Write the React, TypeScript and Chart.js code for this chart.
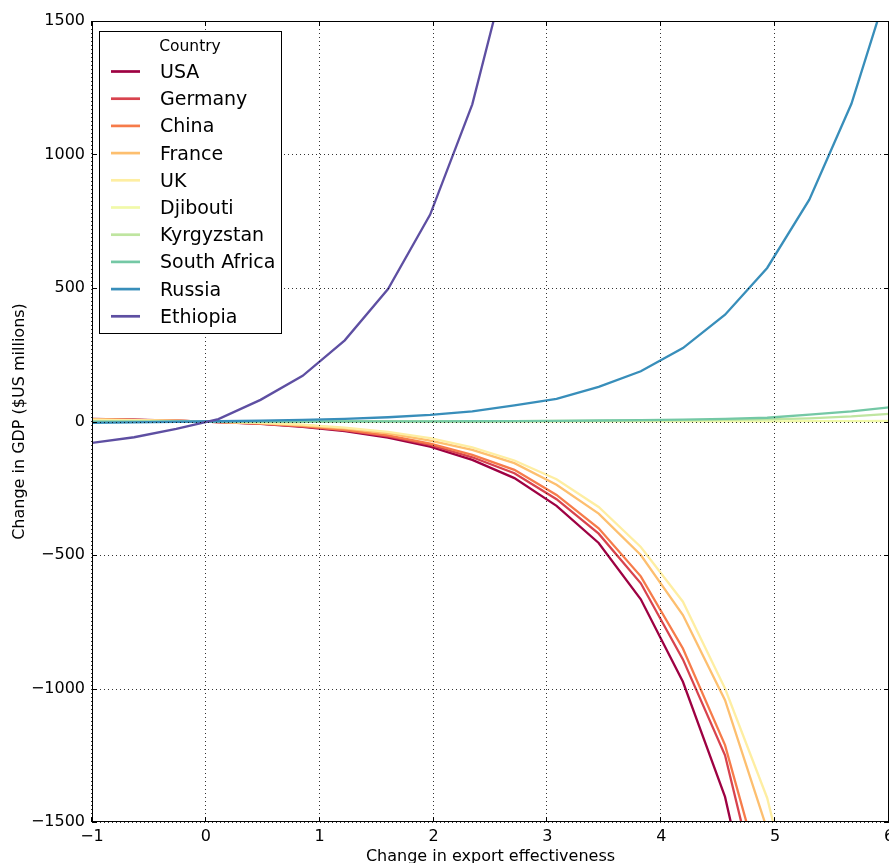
import React, { useEffect, useRef } from 'react';
import { Chart, registerables } from 'chart.js';

Chart.register(...registerables);

const FONT = '"DejaVu Sans", "Bitstream Vera Sans", sans-serif';

const countries = ['USA', 'Germany', 'China', 'France', 'UK', 'Djibouti', 'Kyrgyzstan', 'South Africa', 'Russia', 'Ethiopia'];
const colors = ['#9e0142', '#d8434e', '#f67b4a', '#fdbf6f', '#feeea2', '#f1f9a9', '#bfe5a0', '#74c8a5', '#388eba', '#5e4fa2'];

const xValues = [-1.0, -0.63, -0.26, 0.11, 0.48, 0.85, 1.22, 1.6, 1.97, 2.34, 2.71, 3.08, 3.45, 3.82, 4.19, 4.56, 4.93, 5.3, 5.67, 6.05];

const usa = [10, 7, 3, -2, -9, -20, -36, -60, -94, -144, -212, -316, -455, -666, -975, -1406, -2100, -3000, -4400, -6400];
const germany = [9, 6, 3, -2, -8, -18, -33, -56, -88, -134, -194, -291, -420, -606, -891, -1250, -1900, -2750, -4000, -5800];
const china = [9, 6, 3, -2, -8, -17, -31, -52, -83, -125, -181, -275, -400, -580, -850, -1212, -1780, -2600, -3800, -5500];
const france = [8, 5, 2, -1, -6, -14, -26, -44, -72, -106, -156, -237, -345, -500, -725, -1044, -1528, -2200, -3200, -4700];
const uk = [7, 5, 2, -1, -5, -12, -23, -39, -62, -97, -146, -216, -320, -470, -675, -1000, -1410, -2050, -3000, -4400];
const djibouti = [-0.3, -0.2, -0.1, 0, 0, 0, 0, 0, 0, 0, 0.1, 0.1, 0.2, 0.3, 0.4, 0.6, 0.8, 1.1, 1.5, 2];
const kyrgyzstan = [-0.5, -0.4, -0.3, -0.2, -0.1, 0, 0.1, 0.3, 0.5, 0.8, 1.2, 1.8, 2.5, 3.5, 4.5, 6, 8, 12, 19, 30];
const southAfrica = [-1, -0.7, -0.5, -0.3, -0.2, 0, 0.1, 0.3, 0.6, 1, 1.6, 2.5, 3.7, 5.2, 7, 10, 14, 26, 38, 55];
const russia = [-5, -3, -1, 1, 3, 6, 10, 16, 25, 38, 60, 85, 130, 188, 275, 400, 575, 831, 1190, 1706];
const ethiopia = [-80, -59, -28, 9, 81, 171, 304, 496, 775, 1188, 1807, 2700, 3950, 5700, 8200, 11800, 17000, 24000, 34000, 48000];

const seriesValues = [usa, germany, china, france, uk, djibouti, kyrgyzstan, southAfrica, russia, ethiopia];

const xTickValues = [-1, 0, 1, 2, 3, 4, 5, 6];
const yTickValues = [-1500, -1000, -500, 0, 500, 1000, 1500];

const legendTitle = 'Country';
const xTitle = 'Change in export effectiveness';
const yTitle = 'Change in GDP ($US millions)';

const fmt = (v: number) => (v < 0 ? '\u2212' + Math.abs(v) : String(v));

const overlayPlugin = {
  id: 'mplOverlay',
  afterDatasetsDraw(chart: any) {
    const { ctx, chartArea: a, scales } = chart;
    const xs = scales.x;
    const ys = scales.y;
    ctx.save();
    // dotted grid on top of lines (matplotlib classic)
    ctx.strokeStyle = 'rgba(0,0,0,0.8)';
    ctx.lineWidth = 1;
    ctx.setLineDash([1, 3]);
    for (const v of xTickValues) {
      const px = Math.round(xs.getPixelForValue(v)) - 0.5;
      ctx.beginPath();
      ctx.moveTo(px, a.top);
      ctx.lineTo(px, a.bottom);
      ctx.stroke();
    }
    for (const v of yTickValues) {
      const py = Math.round(ys.getPixelForValue(v)) + 0.5;
      ctx.beginPath();
      ctx.moveTo(a.left, py);
      ctx.lineTo(a.right, py);
      ctx.stroke();
    }
    ctx.setLineDash([]);
    // inward ticks
    ctx.strokeStyle = '#000';
    for (const v of xTickValues) {
      const px = Math.round(xs.getPixelForValue(v)) - 0.5;
      ctx.beginPath();
      ctx.moveTo(px, a.bottom);
      ctx.lineTo(px, a.bottom - 5);
      ctx.moveTo(px, a.top);
      ctx.lineTo(px, a.top + 5);
      ctx.stroke();
    }
    for (const v of yTickValues) {
      const py = Math.round(ys.getPixelForValue(v)) + 0.5;
      ctx.beginPath();
      ctx.moveTo(a.left, py);
      ctx.lineTo(a.left + 5, py);
      ctx.moveTo(a.right, py);
      ctx.lineTo(a.right - 5, py);
      ctx.stroke();
    }
    // frame
    ctx.strokeRect(a.left + 0.5, a.top + 0.5, a.right - a.left - 1, a.bottom - a.top - 1);

    // legend
    const bx = 99.5, by = 31.5, bw = 182, bh = 302;
    ctx.fillStyle = '#ffffff';
    ctx.fillRect(bx, by, bw, bh);
    ctx.strokeStyle = '#000';
    ctx.lineWidth = 1;
    ctx.strokeRect(bx, by, bw, bh);
    ctx.fillStyle = '#000';
    ctx.font = `15.5px ${FONT}`;
    ctx.textAlign = 'center';
    ctx.textBaseline = 'middle';
    ctx.fillText(legendTitle, 190, 46.5);
    ctx.font = `19px ${FONT}`;
    ctx.textAlign = 'left';
    countries.forEach((name, i) => {
      const y = 71.5 + i * 27.2;
      ctx.strokeStyle = colors[i];
      ctx.lineWidth = 2.7;
      ctx.beginPath();
      ctx.moveTo(111, y);
      ctx.lineTo(140, y);
      ctx.stroke();
      ctx.fillStyle = '#000';
      ctx.fillText(name, 160, y + 1.5);
    });
    ctx.restore();
  },
};

export default function App() {
  const ref = useRef<HTMLCanvasElement | null>(null);
  useEffect(() => {
    document.body.style.margin = '0';
    document.body.style.overflow = 'hidden';
    const canvas = ref.current;
    if (!canvas) return;
    const datasets = countries.map((name, i) => ({
      label: name,
      data: xValues.map((x, j) => ({ x, y: seriesValues[i][j] })),
      borderColor: colors[i],
      backgroundColor: colors[i],
      borderWidth: 2.3,
      pointRadius: 0,
      tension: 0,
      fill: false,
      order: countries.length - i,
    }));
    const chart = new Chart(canvas, {
      type: 'line',
      data: { datasets },
      plugins: [overlayPlugin],
      options: {
        responsive: false,
        animation: false,
        devicePixelRatio: 1,
        layout: { padding: { top: 21, right: 0, left: 0, bottom: 0 } },
        plugins: { legend: { display: false }, tooltip: { enabled: false } },
        scales: {
          x: {
            type: 'linear',
            min: -1,
            max: 6,
            ticks: {
              stepSize: 1,
              color: '#000',
              font: { family: FONT, size: 16 },
              padding: 5,
              maxRotation: 0,
              autoSkip: false,
              callback: (v: any) => fmt(Number(v)),
            },
            grid: { display: false, drawTicks: false },
            border: { display: false },
            title: {
              display: true,
              text: xTitle,
              color: '#000',
              font: { family: FONT, size: 16, lineHeight: 1 },
              padding: { top: 0, bottom: -2 },
            },
            afterFit: (s: any) => {
              s.height = 41;
              s.paddingLeft = 0;
              s.paddingRight = 0;
            },
          },
          y: {
            type: 'linear',
            min: -1500,
            max: 1500,
            ticks: {
              stepSize: 500,
              color: '#000',
              font: { family: FONT, size: 16 },
              padding: 7,
              autoSkip: false,
              callback: (v: any) => fmt(Number(v)),
            },
            grid: { display: false, drawTicks: false },
            border: { display: false },
            title: {
              display: true,
              text: yTitle,
              color: '#000',
              font: { family: FONT, size: 16, lineHeight: 1 },
              padding: { top: 11.5, bottom: 0 },
            },
            afterFit: (s: any) => {
              s.width = 92;
              s.paddingTop = 0;
              s.paddingBottom = 0;
            },
          },
        },
      } as any,
    });
    return () => chart.destroy();
  }, []);
  return (
    <div style={{ width: 889, height: 863, background: '#fff' }}>
      <canvas ref={ref} width={889} height={863} style={{ display: 'block', width: 889, height: 863 }} />
    </div>
  );
}
